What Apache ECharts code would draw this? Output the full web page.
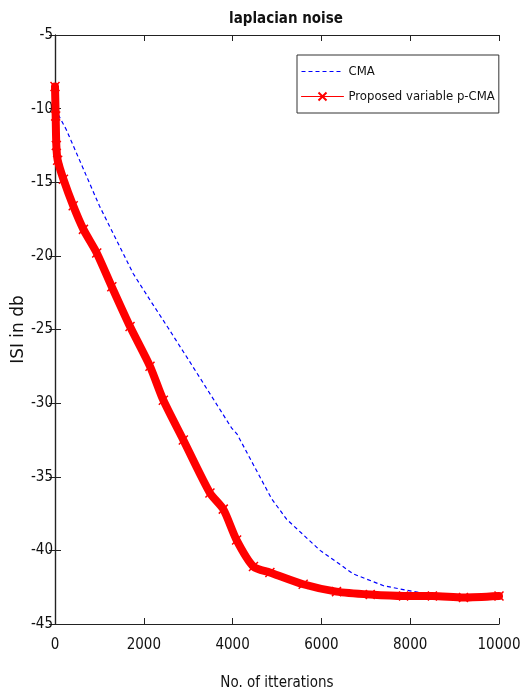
<!DOCTYPE html>
<html>
<head>
<meta charset="utf-8">
<script src="https://cdn.jsdelivr.net/npm/echarts@6/dist/echarts.min.js"></script>
<style>
  html, body { margin: 0; padding: 0; background: #fff; }
  #chart { width: 526px; height: 696px; }
</style>
</head>
<body>
<div id="chart"></div>
<script>
// values
const cmaIter = [0, 250, 1000, 1760, 2140, 2550, 3100, 3980, 4100, 4400, 4880, 5220, 5970, 6720, 7400, 7900, 8500, 9000, 10000]
const cmaISI = [-10.0, -11.4, -16.6, -21.2, -23.0, -24.9, -27.5, -31.7, -32.1, -33.8, -36.5, -37.9, -40.0, -41.6, -42.4, -42.7, -43.0, -43.1, -43.1]

const pcmaIter = [0, 15, 30, 60, 190, 410, 640, 940, 1280, 1690, 2140, 2440, 2890, 3490, 3790, 4090, 4470, 4840, 5590, 6340, 7100, 7850, 8500, 9200, 10000]
const pcmaISI = [-8.5, -10.5, -12.5, -13.5, -14.8, -16.6, -18.2, -19.8, -22.1, -24.8, -27.5, -29.8, -32.5, -36.1, -37.2, -39.3, -41.1, -41.5, -42.3, -42.8, -43.0, -43.1, -43.1, -43.2, -43.1]

const xTicks = [0, 2000, 4000, 6000, 8000, 10000]
const yTicks = [-45, -40, -35, -30, -25, -20, -15, -10, -5]

const fontNarrow = "'DejaVu Sans Condensed', 'Liberation Sans', Arial, sans-serif"
const crossPath = 'path://M0,0L10,10M10,0L0,10'

const chart = echarts.init(document.getElementById('chart'))

const axisCommon = {
  axisLine: { show: true, lineStyle: { color: '#222', width: 1.2 } },
  axisTick: { inside: true, length: 6, lineStyle: { color: '#222' } },
  splitLine: { show: false }
}

const option = {
  animation: false,
  backgroundColor: '#fff',
  title: {
    text: 'laplacian noise',
    left: 281,
    textAlign: 'center',
    top: 7,
    textStyle: { fontFamily: fontNarrow, fontWeight: 'bold', fontSize: 15, color: '#111' }
  },
  legend: {
    orient: 'vertical',
    left: 297,
    top: 55,
    padding: [10, 4, 10, 4],
    itemGap: 12,
    itemWidth: 42,
    itemHeight: 10,
    borderColor: '#333',
    borderWidth: 1,
    backgroundColor: '#fff',
    lineStyle: { width: 1 },
    textStyle: { fontFamily: fontNarrow, fontSize: 13, color: '#111' },
    data: [
      { name: 'CMA', itemStyle: { opacity: 0 } },
      { name: 'Proposed variable p-CMA' }
    ]
  },
  grid: { left: 55, right: 27, top: 35, bottom: 72, outerBoundsMode: 'none' },
  xAxis: [
    Object.assign({}, axisCommon, {
      type: 'value',
      min: 0,
      max: 10000,
      interval: 2000,
      name: 'No. of itterations',
      nameLocation: 'middle',
      nameGap: 52,
      nameMoveOverlap: false,
      nameTextStyle: { fontFamily: fontNarrow, fontSize: 15, color: '#111' },
      axisLabel: { margin: 14, fontFamily: fontNarrow, fontSize: 15, color: '#111',
        formatter: v => xTicks.includes(v) ? String(v) : '' }
    }),
    Object.assign({}, axisCommon, {
      type: 'value', position: 'top', min: 0, max: 10000, interval: 2000,
      axisLabel: { show: false }
    })
  ],
  yAxis: [
    Object.assign({}, axisCommon, {
      type: 'value',
      min: -45,
      max: -5,
      interval: 5,
      name: 'ISI in db',
      nameLocation: 'middle',
      nameGap: 28,
      nameMoveOverlap: false,
      nameTextStyle: { fontFamily: "'DejaVu Sans', sans-serif", fontSize: 17, color: '#111' },
      axisLabel: { margin: 2, fontFamily: fontNarrow, fontSize: 15, color: '#111',
        formatter: v => yTicks.includes(v) ? String(v) : '' }
    }),
    Object.assign({}, axisCommon, {
      type: 'value', position: 'right', min: -45, max: -5, interval: 5,
      axisLabel: { show: false }
    })
  ],
  series: [
    {
      name: 'CMA',
      type: 'line',
      data: cmaIter.map((t, i) => [t, cmaISI[i]]),
      showSymbol: false,
      symbol: 'none',
      z: 3,
      itemStyle: { color: '#0000ff' },
      lineStyle: { color: '#0000ff', width: 1.2, type: [4, 3] }
    },
    {
      name: 'Proposed variable p-CMA',
      type: 'line',
      data: pcmaIter.map((t, i) => [t, pcmaISI[i]]),
      smooth: 0.25,
      symbol: crossPath,
      symbolSize: 9,
      z: 4,
      itemStyle: { color: 'rgba(255,0,0,0)', borderColor: '#ff0000', borderWidth: 1.5 },
      lineStyle: { color: '#ff0000', width: 8, join: 'round', cap: 'round' }
    }
  ]
}

chart.setOption(option)
</script>
</body>
</html>
